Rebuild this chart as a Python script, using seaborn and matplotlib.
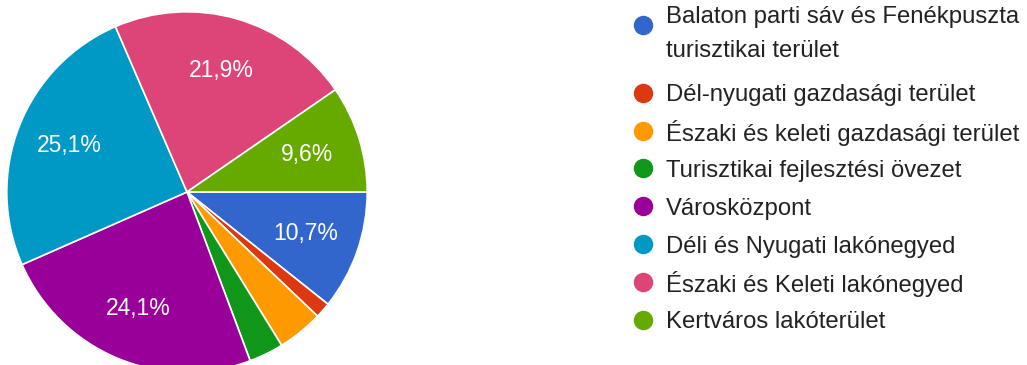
import matplotlib
matplotlib.use("Agg")
import matplotlib.pyplot as plt
from matplotlib.lines import Line2D
import seaborn as sns

sns.set_style("white")
plt.rcParams["font.family"] = ["Liberation Sans", "DejaVu Sans"]

# adatok (százalék), 3 órától az óramutató járásával megegyezően
categories = [
    "Balaton parti sáv és Fenékpuszta\nturisztikai terület",
    "Dél-nyugati gazdasági terület",
    "Északi és keleti gazdasági terület",
    "Turisztikai fejlesztési övezet",
    "Városközpont",
    "Déli és Nyugati lakónegyed",
    "Északi és Keleti lakónegyed",
    "Kertváros lakóterület",
]
shares = [10.7, 1.4, 4.1, 3.1, 24.1, 25.1, 21.9, 9.6]
colors = ["#3366cc", "#dc3912", "#ff9900", "#109618",
          "#990099", "#0099c6", "#dd4477", "#66aa00"]

palette = sns.color_palette(colors)

W, H = 1027, 365
fig = plt.figure(figsize=(W / 100, H / 100), dpi=100)
ax = fig.add_axes([5 / W, -9 / H, 364 / W, 364 / H])


def pct_label(p):
    return f"{p:.1f}".replace(".", ",") + "%" if p > 5 else ""


wedges, texts, autotexts = ax.pie(
    shares, colors=palette, startangle=0, counterclock=False,
    autopct=pct_label, pctdistance=0.70,
    wedgeprops=dict(edgecolor="white", linewidth=1.2),
    textprops=dict(color="white", fontsize=16.5),
)
ax.set_xlim(-1.01, 1.01)
ax.set_ylim(-1.01, 1.01)
ax.set_aspect("equal")

# jelmagyarázat: az első tétel két soros, a kör az első sorhoz igazodik
pitch = 37.8
line_step = 30
y = 25
for label, c in zip(categories, palette):
    fy = 1 - y / H
    fig.add_artist(Line2D([643 / W], [fy], transform=fig.transFigure,
                          marker="o", markersize=13, linestyle="",
                          markerfacecolor=c, markeredgecolor=c))
    fig.text(666 / W, fy, label, fontsize=17.2, color="#222222",
             va="center_baseline", ha="left", linespacing=1.72)
    y += pitch + line_step * label.count("\n")

fig.savefig("out.png", dpi=100)
